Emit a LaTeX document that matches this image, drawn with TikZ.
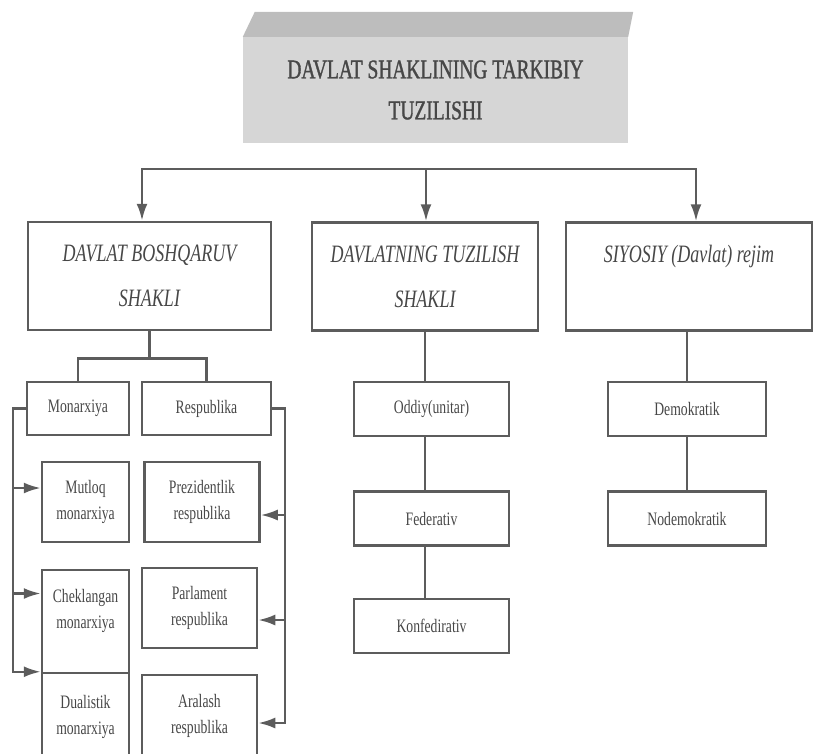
\documentclass[tikz,border=0pt]{standalone}
\usepackage{fontspec}
\setmainfont{Liberation Serif}
\newfontfamily\titlefont[FakeStretch=0.72,FakeBold=1.2]{Liberation Serif}
\newfontfamily\headfont[FakeStretch=0.72]{Liberation Serif}
\newfontfamily\itemfont[FakeStretch=0.72]{Liberation Serif}
\usetikzlibrary{arrows.meta, positioning}

\definecolor{linegray}{gray}{0.36}
\definecolor{textgray}{gray}{0.28}
\definecolor{frontgray}{gray}{0.84}
\definecolor{topgray}{gray}{0.74}

\begin{document}
\begin{tikzpicture}[
    x=1pt, y=-1pt,
    node distance=13pt,
    every node/.style={text=textgray},
    titlebox/.style={fill=frontgray, align=center, inner sep=0pt, minimum width=385pt, minimum height=106pt, font=\titlefont\fontsize{27}{41}\selectfont},
    headbox/.style={rectangle, draw=linegray, line width=2.5pt, align=center, inner sep=0pt, minimum height=108pt, font=\headfont\itshape\fontsize{25}{45}\selectfont},
    itembox/.style={rectangle, draw=linegray, line width=2.5pt, align=center, inner sep=0pt, font=\itemfont\fontsize{19}{26}\selectfont},
    line/.style={draw=linegray, line width=2.5pt},
    arrow/.style={line, -{Latex[length=17pt, width=11pt]}}
]
\useasboundingbox (0,0) rectangle (814,753);
\clip (0,0) rectangle (814,753);

% Title block
\node[titlebox] (title) at (435.5,90) {DAVLAT SHAKLINING TARKIBIY\\TUZILISHI};
\fill[topgray] (title.north west) -- ([shift={(12pt,25pt)}]title.north west)
    -- ([shift={(5pt,25pt)}]title.north east) -- (title.north east) -- cycle;

% Three main forms
\node[headbox, minimum width=243pt] (gov) at (149.5,276) {DAVLAT BOSHQARUV\\SHAKLI};
\node[headbox, minimum width=226pt] (struct) at (425,276.5) {DAVLATNING TUZILISH\\SHAKLI};
\node[headbox, minimum width=246pt] (regime) at (689,276.5) {SIYOSIY (Davlat) rejim\\\mbox{}};

% Boshqaruv shakli
\node[itembox, minimum width=102pt, minimum height=53pt] (mon) at (78,408.5) {Monarxiya};
\node[itembox, minimum width=129pt, minimum height=53pt] (rep) at (206.5,408.5) {Respublika};
\node[itembox, minimum width=87pt, minimum height=80pt] (mutloq) at (85.5,502) {Mutloq\\monarxiya};
\node[itembox, minimum width=115pt, minimum height=80pt, right=of mutloq] (prez) {Prezidentlik\\respublika};
\node[itembox, minimum width=87pt, minimum height=103pt] (chek) at (85.5,621.5) {Cheklangan\\monarxiya\\\mbox{}};
\node[itembox, minimum width=115pt, minimum height=80pt] (parl) at (199.5,608) {Parlament\\respublika};
\node[itembox, minimum width=87pt, minimum height=88pt] (dual) at (85.5,717) {Dualistik\\monarxiya};
\node[itembox, minimum width=115pt, minimum height=82pt] (aral) at (199.5,716) {Aralash\\respublika};

% Tuzilish shakli
\node[itembox, minimum width=155pt, minimum height=54pt] (oddiy) at (431.5,409) {Oddiy(unitar)};
\node[itembox, minimum width=155pt, minimum height=54pt, below=53pt of oddiy] (fed) {Federativ};
\node[itembox, minimum width=155pt, minimum height=54pt, below=51pt of fed] (konf) {Konfedirativ};

% Siyosiy rejim
\node[itembox, minimum width=158pt, minimum height=54pt] (demo) at (687,409) {Demokratik};
\node[itembox, minimum width=158pt, minimum height=54pt, below=53pt of demo] (nodemo) {Nodemokratik};

% Top bus
\coordinate (busL) at (142,169);
\coordinate (busM) at (426,169);
\coordinate (busR) at (696,169);
\draw[arrow] (busM) -- (busL) -- (busL |- gov.north);
\draw[arrow] (busM) -- (busR) -- (busR |- regime.north);
\draw[arrow] (busM) -- (busM |- struct.north);

% Boshqaruv branches
\coordinate[below=27pt of gov.south] (split);
\draw[line] (gov.south) -- (split);
\draw[line] (mon.north) |- (split) -| (rep.north);

\coordinate (lbus) at (13,0);
\coordinate (rbus) at (285,0);
\coordinate (mutloqIn) at ([yshift=14pt]mutloq.west);
\coordinate (chekIn) at ([yshift=28pt]chek.west);
\coordinate (prezIn) at ([yshift=-13pt]prez.east);
\coordinate (parlIn) at ([yshift=-12pt]parl.east);
\coordinate (aralIn) at ([yshift=-7pt]aral.east);
\draw[arrow] (mon.west) -| (lbus |- dual.north west) -- (dual.north west);
\draw[arrow] (lbus |- mutloqIn) -- (mutloqIn);
\draw[arrow] (lbus |- chekIn) -- (chekIn);
\draw[arrow] (rep.east) -| (rbus |- aralIn) -- (aralIn);
\draw[arrow] (rbus |- prezIn) -- (prezIn);
\draw[arrow] (rbus |- parlIn) -- (parlIn);

% Tuzilish and rejim branches
\draw[line] (struct.south) -- (struct.south |- oddiy.north);
\draw[line] (oddiy.south -| struct.south) -- (fed.north -| struct.south);
\draw[line] (fed.south -| struct.south) -- (konf.north -| struct.south);
\draw[line] (regime.south -| demo.north) -- (demo.north);
\draw[line] (demo) -- (nodemo);

\end{tikzpicture}
\end{document}
